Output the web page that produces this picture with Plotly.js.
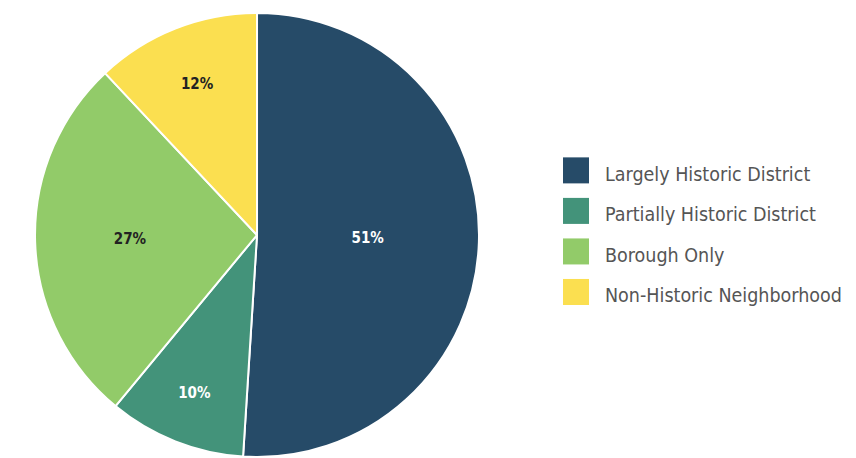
<!DOCTYPE html>
<html>
<head>
<meta charset="utf-8">
<script src="https://cdn.plot.ly/plotly-3.0.1.min.js"></script>
<style>html,body{margin:0;padding:0;background:#fff;}#chart{width:856px;height:458px;}</style>
</head>
<body>
<div id="chart"></div>
<script>
const categories = ["Largely Historic District", "Partially Historic District", "Borough Only", "Non-Historic Neighborhood"];
const shares = [51, 10, 27, 12];
const sliceColors = ["#264B68", "#43937A", "#92CB69", "#FBDF50"];
const labelColors = ["#ffffff", "#ffffff", "#222222", "#222222"];

const FONT = "'DejaVu Sans Condensed', 'Liberation Sans Narrow', 'Roboto', sans-serif";

const trace = {
  type: "pie",
  labels: categories,
  values: shares,
  sort: false,
  direction: "clockwise",
  rotation: 0,
  marker: {colors: sliceColors, line: {color: "#ffffff", width: 2}},
  texttemplate: "<b>%{value}%</b>",
  textposition: "inside",
  insidetextorientation: "horizontal",
  insidetextfont: {family: FONT, size: 15, color: labelColors},
  hoverinfo: "label+percent",
  domain: {x: [0.0409, 0.5596], y: [0.0022, 0.9716]},
  showlegend: false
};

// Legend built from the same arrays
const shapes = [];
const annotations = [];
const legendTop = 0.628;   // paper y of first row centre
const legendStep = 0.0885;
categories.forEach((c, i) => {
  const yc = legendTop - i * legendStep;
  shapes.push({type: "rect", xref: "paper", yref: "paper",
    x0: 0.6577, x1: 0.6881, y0: yc - 0.0284, y1: yc + 0.0284,
    fillcolor: sliceColors[i], line: {width: 0}});
  annotations.push({xref: "paper", yref: "paper", x: 0.7045, y: yc - 0.008,
    xanchor: "left", yanchor: "middle", showarrow: false, text: c,
    font: {family: FONT, size: 19.5, color: "#555555"}});
});

const layout = {
  width: 856, height: 458,
  margin: {l: 0, r: 0, t: 0, b: 0},
  paper_bgcolor: "#ffffff",
  showlegend: false,
  shapes: shapes,
  annotations: annotations
};

Plotly.newPlot("chart", [trace], layout, {displayModeBar: false, staticPlot: true});
</script>
</body>
</html>
